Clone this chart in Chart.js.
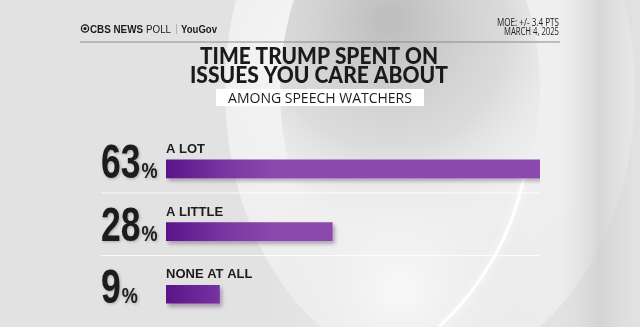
<!DOCTYPE html>
<html>
<head>
<meta charset="utf-8">
<script src="https://cdn.jsdelivr.net/npm/chart.js@4.4.1/dist/chart.umd.min.js"></script>
<style>
  html, body { margin: 0; padding: 0; background: #e4e4e4; }
  #myChart { display: block; }
</style>
</head>
<body>
<canvas id="myChart" width="640" height="327"></canvas>
<script>
// poll data
const categories = ["A LOT", "A LITTLE", "NONE AT ALL"];
const values = [63, 28, 9];
const title = ["TIME TRUMP SPENT ON", "ISSUES YOU CARE ABOUT"];
const subtitle = "AMONG SPEECH WATCHERS";
const moeText = ["MOE: +/- 3.4 PTS", "MARCH 4, 2025"];

const pollChart = document.getElementById("myChart");

// draw text squeezed horizontally when it is wider than maxW
function fitText(ctx, text, x, y, font, maxW, align) {
  ctx.save();
  ctx.font = font;
  ctx.textAlign = "left";
  let w = ctx.measureText(text).width;
  let sx = maxW && w > maxW ? maxW / w : 1;
  let left = x;
  if (align === "center") left = x - (w * sx) / 2;
  if (align === "right") left = x - w * sx;
  ctx.translate(left, y);
  ctx.scale(sx, 1);
  ctx.fillText(text, 0, 0);
  ctx.restore();
  return w * sx;
}

// background eye + header
const backdrop = {
  id: "backdrop",
  beforeDraw(chart) {
    const ctx = chart.ctx;
    ctx.save();
    ctx.fillStyle = "#e2e2e2";
    ctx.fillRect(0, 0, 640, 327);

    // big eye shape
    let g = ctx.createRadialGradient(330, 40, 20, 400, 120, 280);
    g.addColorStop(0, "#f5f5f5");
    g.addColorStop(1, "#ebebeb");
    ctx.fillStyle = g;
    ctx.beginPath();
    ctx.ellipse(430, 90, 205, 280, 0, 0, Math.PI * 2);
    ctx.fill();

    // grey pupil
    g = ctx.createRadialGradient(390, 20, 10, 390, 40, 190);
    g.addColorStop(0, "rgba(188,188,188,0.95)");
    g.addColorStop(0.6, "rgba(205,205,205,0.6)");
    g.addColorStop(1, "rgba(225,225,225,0)");
    ctx.fillStyle = g;
    ctx.beginPath();
    ctx.ellipse(410, 90, 130, 200, 0, 0, Math.PI * 2);
    ctx.fill();

    // lower light sphere
    g = ctx.createRadialGradient(400, 290, 10, 400, 280, 140);
    g.addColorStop(0, "rgba(248,248,248,0.9)");
    g.addColorStop(1, "rgba(230,230,230,0)");
    ctx.fillStyle = g;
    ctx.beginPath();
    ctx.arc(400, 280, 140, 0, Math.PI * 2);
    ctx.fill();

    // white highlight arc on the right
    ctx.strokeStyle = "rgba(255,255,255,0.95)";
    ctx.lineWidth = 3;
    ctx.shadowColor = "rgba(255,255,255,1)";
    ctx.shadowBlur = 8;
    ctx.beginPath();
    ctx.arc(250, 120, 280, 0.2, 0.83);
    ctx.stroke();
    ctx.shadowBlur = 0;

    // darker edge on the far right
    g = ctx.createLinearGradient(560, 0, 640, 0);
    g.addColorStop(0, "rgba(220,220,220,0)");
    g.addColorStop(0.5, "rgba(205,205,205,0.7)");
    g.addColorStop(1, "rgba(225,225,225,0.3)");
    ctx.fillStyle = g;
    ctx.fillRect(560, 0, 80, 327);

    // header
    ctx.fillStyle = "#1b1b1b";
    ctx.strokeStyle = "#1b1b1b";
    ctx.lineWidth = 1.3;
    ctx.beginPath();
    ctx.arc(85, 28.5, 3.6, 0, Math.PI * 2);
    ctx.stroke();
    ctx.beginPath();
    ctx.arc(85, 28.5, 1.6, 0, Math.PI * 2);
    ctx.fill();
    let x = 90;
    x += fitText(ctx, "CBS NEWS", x, 32.5, "bold 11px 'Liberation Sans'", 53) + 3;
    x += fitText(ctx, "POLL", x, 32.5, "11px 'Liberation Sans'", 25) + 5;
    ctx.fillStyle = "#aaaaaa";
    ctx.fillRect(x, 24, 0.8, 10);
    ctx.fillStyle = "#1b1b1b";
    fitText(ctx, "YouGov", x + 5, 32.5, "bold 11px 'Liberation Sans'", 36);

    ctx.fillStyle = "#222222";
    fitText(ctx, moeText[0], 559, 25.5, "500 10px 'Open Sans'", 62, "right");
    fitText(ctx, moeText[1], 559, 34.5, "500 10px 'Open Sans'", 55, "right");

    ctx.fillStyle = "#8c8c8c";
    ctx.fillRect(80, 41.5, 480, 1);

    // title
    ctx.fillStyle = "#1a1a1a";
    fitText(ctx, title[0], 319, 64, "900 23px Lato", 238, "center");
    fitText(ctx, title[1], 319, 83, "900 23px Lato", 258, "center");

    // subtitle box
    ctx.fillStyle = "#ffffff";
    ctx.fillRect(216, 89, 208, 17);
    ctx.fillStyle = "#1d1d1d";
    fitText(ctx, subtitle, 320, 103, "500 14px 'Open Sans'", 190, "center");
    ctx.restore();
  }
};

// big percentages, answer labels and separators
const barLabels = {
  id: "barLabels",
  beforeDatasetsDraw(chart) {
    const ctx = chart.ctx;
    const bars = chart.getDatasetMeta(0).data;
    ctx.save();
    bars.forEach((bar, i) => {
      if (i < bars.length - 1) {
        ctx.fillStyle = "rgba(255,255,255,0.9)";
        ctx.fillRect(101, bar.y + 23.5, 439, 1);
      }
    });
    ctx.restore();
  },
  afterDatasetsDraw(chart) {
    const ctx = chart.ctx;
    const bars = chart.getDatasetMeta(0).data;
    ctx.save();
    bars.forEach((bar, i) => {
      const top = bar.y - bar.height / 2;
      const bottom = bar.y + bar.height / 2;
      ctx.fillStyle = "#1c1c1c";
      fitText(ctx, categories[i], chart.chartArea.left, top - 7, "bold 13px 'Liberation Sans'");
      ctx.shadowColor = "rgba(0,0,0,0.25)";
      ctx.shadowBlur = 3;
      ctx.shadowOffsetX = 1;
      ctx.shadowOffsetY = 1;
      const num = String(values[i]);
      ctx.font = "bold 48px 'Liberation Sans'";
      const nw = ctx.measureText(num).width * 0.74;
      fitText(ctx, num, 101, bottom, "bold 48px 'Liberation Sans'", nw);
      ctx.font = "bold 22px 'Liberation Sans'";
      const pw = ctx.measureText("%").width * 0.82;
      fitText(ctx, "%", 101 + nw + 1, bottom, "bold 22px 'Liberation Sans'", pw);
      ctx.shadowColor = "transparent";
    });
    ctx.restore();
  },
  beforeDatasetDraw(chart) {
    const ctx = chart.ctx;
    ctx.save();
    ctx.shadowColor = "rgba(60,20,80,0.35)";
    ctx.shadowBlur = 4;
    ctx.shadowOffsetX = 2;
    ctx.shadowOffsetY = 3;
  },
  afterDatasetDraw(chart) {
    chart.ctx.restore();
  }
};

function barFill(context) {
  const chart = context.chart;
  const area = chart.chartArea;
  if (!area) return "#8a47ab";
  const g = chart.ctx.createLinearGradient(area.left, 0, area.left + 110, 0);
  g.addColorStop(0, "#5a1489");
  g.addColorStop(0.55, "#7a37a3");
  g.addColorStop(1, "#8c49ad");
  return g;
}

new Chart(pollChart, {
  type: "bar",
  data: {
    labels: categories,
    datasets: [{
      data: values,
      backgroundColor: barFill,
      borderWidth: 0,
      barThickness: 18
    }]
  },
  options: {
    indexAxis: "y",
    responsive: false,
    devicePixelRatio: 1,
    animation: false,
    layout: { padding: { left: 166, right: 100, top: 137.6, bottom: 1.4 } },
    scales: {
      x: { display: false, min: 0, max: 63 },
      y: { display: false }
    },
    plugins: {
      legend: { display: false },
      tooltip: { enabled: false }
    }
  },
  plugins: [backdrop, barLabels]
});
</script>
</body>
</html>
